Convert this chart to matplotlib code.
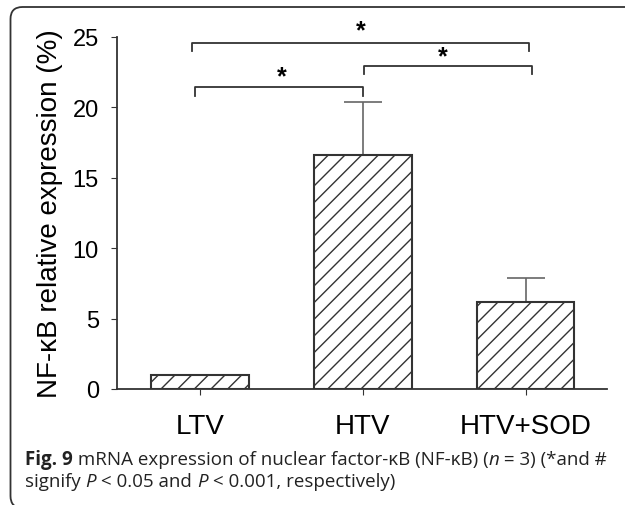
import matplotlib
matplotlib.use("Agg")
import matplotlib.pyplot as plt
from matplotlib.patches import FancyBboxPatch

# -----------------------------
# Data
# -----------------------------
groups = ["LTV", "HTV", "HTV+SOD"]
means = [1.0, 16.6, 6.2]
errs = [0.0, 3.75, 1.65]

# significance brackets: x start, x end, bar height, end drop
br_x1 = [-0.05, -0.03, 1.01]
br_x2 = [2.02, 1.00, 2.04]
br_y = [24.55, 21.43, 22.92]
br_end = [24.0, 20.8, 22.36]
star_x = [0.99, 0.50, 1.49]
star_y = [25.45, 22.2, 23.6]

# -----------------------------
# Figure
# -----------------------------
fig = plt.figure(figsize=(6.25, 5.06), dpi=100)
ax = fig.add_axes([117 / 625, 1 - 390 / 506, 490 / 625, 352 / 506])

edge = "#333333"
xpos = list(range(len(groups)))
plt.rcParams["hatch.linewidth"] = 1.0
plt.rcParams["hatch.color"] = "#222222"
ax.bar(xpos, means, width=0.6, color="white", edgecolor=edge,
       linewidth=1.5, hatch="//", zorder=2)

# upper error bars only (LTV has none)
for i in range(1, len(groups)):
    ax.errorbar(xpos[i], means[i], yerr=[[0], [errs[i]]], fmt="none",
                ecolor="#666666", elinewidth=1.2, capsize=14, capthick=1.2,
                zorder=1)

for x1, x2, y, ye in zip(br_x1, br_x2, br_y, br_end):
    ax.plot([x1, x1, x2, x2], [ye, y, y, ye], color=edge, lw=1.3,
            clip_on=False)
for sx, sy in zip(star_x, star_y):
    ax.text(sx, sy, "*", ha="center", va="center", fontsize=18,
            fontweight="bold", family="Liberation Sans", clip_on=False)

ax.set_xlim(-0.51, 2.50)
ax.set_ylim(0, 25)
ax.set_yticks([0, 5, 10, 15, 20, 25])
ax.set_xticks(xpos)
ax.set_xticklabels(groups, fontsize=20, family="Liberation Sans")
for lab in ax.get_yticklabels():
    lab.set_fontsize(17)
    lab.set_family("Liberation Sans")
ax.tick_params(axis="y", direction="out", length=4, pad=9, color=edge)
ax.tick_params(axis="x", direction="out", length=4, pad=13, color=edge)
ax.set_ylabel("NF-κB relative expression (%)", fontsize=20,
              family="Liberation Sans", labelpad=7)
for s in ["top", "right"]:
    ax.spines[s].set_visible(False)
for s in ["left", "bottom"]:
    ax.spines[s].set_color(edge)
    ax.spines[s].set_linewidth(1.3)

# -----------------------------
# Border box (inches)
# -----------------------------
box = FancyBboxPatch((0.105, -0.03), 6.4, 5.01,
                     boxstyle="round,pad=0,rounding_size=0.12",
                     transform=fig.dpi_scale_trans, fill=False,
                     edgecolor="#333333", linewidth=1.3, clip_on=False)
fig.patches.append(box)

# -----------------------------
# Caption
# -----------------------------
renderer = fig.canvas.get_renderer()
cap_font = "Open Sans"
cap_size = 13.5


def rich_line(x, y, parts):
    for txt, style, weight in parts:
        t = fig.text(x, y, txt, transform=fig.dpi_scale_trans,
                     va="baseline", ha="left", fontsize=cap_size,
                     family=cap_font, style=style, fontweight=weight,
                     color="#222222")
        x += t.get_window_extent(renderer).width / fig.dpi


rich_line(0.25, 0.41, [
    ("Fig. 9", "normal", "bold"),
    (" mRNA expression of nuclear factor-κB (NF-κB) (", "normal", "normal"),
    ("n", "italic", "normal"),
    (" = 3) (*and #", "normal", "normal"),
])
rich_line(0.25, 0.19, [
    ("signify ", "normal", "normal"),
    ("P", "italic", "normal"),
    (" < 0.05 and ", "normal", "normal"),
    ("P", "italic", "normal"),
    (" < 0.001, respectively)", "normal", "normal"),
])

fig.savefig("out.png", dpi=100)
